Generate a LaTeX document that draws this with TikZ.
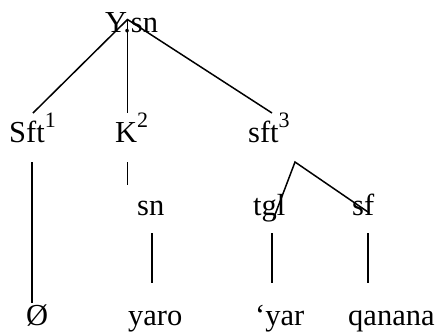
\documentclass[tikz,border=0pt]{standalone}
\usepackage{fontspec}
\setmainfont{Liberation Serif}
\newcommand\mysup[1]{\raisebox{15pt}{\fontsize{22}{22}\selectfont #1}}
\begin{document}
\begin{tikzpicture}[x=1pt,y=-1pt,
  lbl/.style={anchor=base west,inner sep=0pt,font=\fontsize{30.5}{36}\selectfont},
  branch/.style={line width=1.5pt}]
\useasboundingbox (0,0) rectangle (438,333);
% labels
\node[lbl] (root) at (105,32) {Y.sn};
\node[lbl] (sft1) at (9,142) {Sft\mysup{1}};
\node[lbl] (k2) at (115,142) {K\mysup{2}};
\node[lbl] (sft3) at (248,142) {sft\mysup{3}};
\node[lbl] (sn) at (137,215) {sn};
\node[lbl] (tgl) at (253,215) {tgl};
\node[lbl] (sf) at (352,215) {sf};
\node[lbl] (oslash) at (26,325) {Ø};
\node[lbl] (yaro) at (128,325) {yaro};
\node[lbl] (yar) at (255,325) {‘yar};
\node[lbl] (qanana) at (348,325) {qanana};
% line end points
\coordinate (apex) at (127.5,19.5);
\coordinate (toSft1) at (33,113);
\coordinate (toK2) at (127.5,113);
\coordinate (toSft3) at (272,113);
\coordinate (sftA) at (32,162);
\coordinate (sftB) at (32,303);
\coordinate (kA) at (127.5,162);
\coordinate (kB) at (127.5,185);
\coordinate (apex3) at (295,162);
\coordinate (toTgl) at (273,220);
\coordinate (toSf) at (368,212);
\coordinate (snA) at (152,233);
\coordinate (snB) at (152,283);
\coordinate (tglA) at (272,233);
\coordinate (tglB) at (272,283);
\coordinate (sfA) at (368,233);
\coordinate (sfB) at (368,283);
% branches
\draw[branch] (toSft1) -- (apex) -- (toSft3);
\draw[branch] (apex) -- (toK2);
\draw[branch] (sftA) -- (sftB);
\draw[branch] (kA) -- (kB);
\draw[branch] (toTgl) -- (apex3) -- (toSf);
\draw[branch] (snA) -- (snB);
\draw[branch] (tglA) -- (tglB);
\draw[branch] (sfA) -- (sfB);
\end{tikzpicture}
\end{document}
